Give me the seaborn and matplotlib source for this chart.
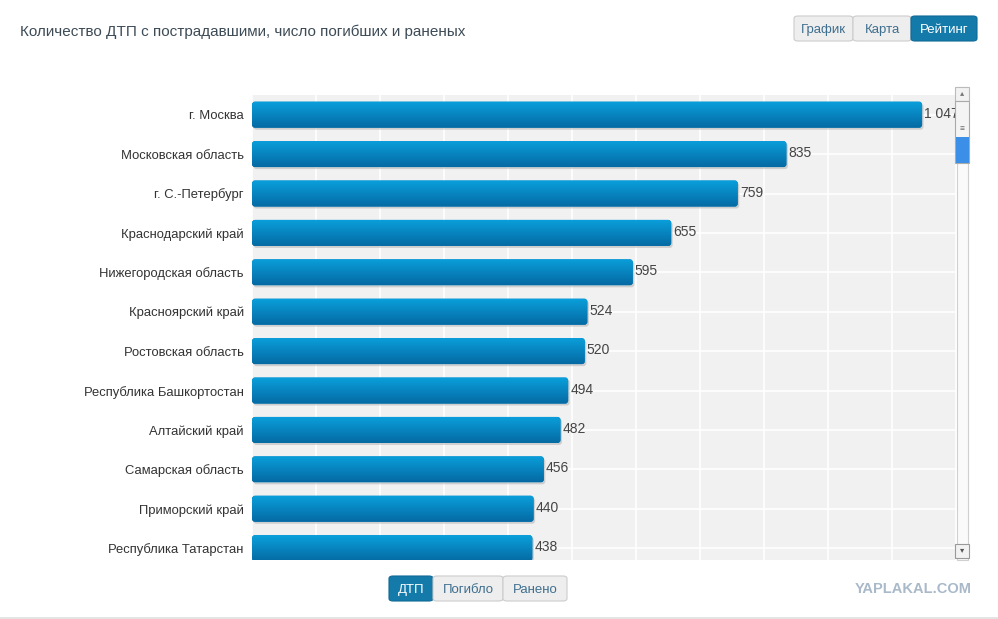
import numpy as np
import pandas as pd
import matplotlib
matplotlib.use('Agg')
import matplotlib.pyplot as plt
import seaborn as sns
from matplotlib.patches import FancyBboxPatch, Rectangle

regions = ['г. Москва', 'Московская область', 'г. С.-Петербург', 'Краснодарский край',
           'Нижегородская область', 'Красноярский край', 'Ростовская область',
           'Республика Башкортостан', 'Алтайский край', 'Самарская область',
           'Приморский край', 'Республика Татарстан']
accidents = [1047, 835, 759, 655, 595, 524, 520, 494, 482, 456, 440, 438]
top_buttons = ['График', 'Карта', 'Рейтинг']
bottom_buttons = ['ДТП', 'Погибло', 'Ранено']
title = 'Количество ДТП с пострадавшими, число погибших и раненых'

sns.set_theme(style='whitegrid')
plt.rcParams['font.family'] = ['Liberation Sans', 'DejaVu Sans']

W, H = 998, 619
fig = plt.figure(figsize=(W / 100, H / 100), dpi=100)
fig.patch.set_facecolor('white')


def fx(px):
    return px / W


def fy(py):
    return 1 - py / H


ax = fig.add_axes([fx(252), fy(560), fx(956) - fx(252), fy(95) - fy(560)])
df = pd.DataFrame({'region': regions, 'value': accidents})
sns.barplot(data=df, x='value', y='region', color='#0a86c2', width=0.66, ax=ax)

ax.set_xlim(0, 1100)
ax.set_ylim(11.3, -0.5)
ax.set_facecolor('#f1f1f1')
ax.set_xticks(np.arange(0, 1101, 100))
ax.set_xticklabels([])
ax.grid(True, color='white', linewidth=1.2)
ax.set_axisbelow(True)
for s in ax.spines.values():
    s.set_visible(False)
ax.set_xlabel('')
ax.set_ylabel('')
ax.tick_params(axis='y', labelsize=9.4, labelcolor='#333333', length=0, pad=6)
ax.tick_params(axis='x', length=0)

# rounded gradient bars with a soft shadow
px_x = (956 - 252) / 1100
px_y = (560 - 95) / 11.8
aspect = px_x / px_y
grad = np.linspace(0, 1, 64).reshape(-1, 1)
cmap = matplotlib.colors.LinearSegmentedColormap.from_list('bar', ['#0aa0dc', '#056aa3'])
for p in list(ax.patches):
    x0, y0, w, h = p.get_x(), p.get_y(), p.get_width(), p.get_height()
    p.set_visible(False)
    r = 3 / px_x
    shadow = FancyBboxPatch((x0 + 1.5 / px_x, y0 + 2 / px_y), w, h,
                            boxstyle=f'round,pad=0,rounding_size={r}',
                            mutation_aspect=aspect, facecolor='#b8b8b8',
                            edgecolor='none', alpha=0.6, zorder=2)
    ax.add_patch(shadow)
    bar = FancyBboxPatch((x0, y0), w, h, boxstyle=f'round,pad=0,rounding_size={r}',
                         mutation_aspect=aspect, facecolor='#0a86c2',
                         edgecolor='none', zorder=3)
    ax.add_patch(bar)
    im = ax.imshow(grad, extent=(x0, x0 + w, y0 + h, y0), cmap=cmap,
                   aspect='auto', zorder=4)
    im.set_clip_path(bar)
    label = f'{int(w):,}'.replace(',', ' ')
    ax.text(x0 + w + 2 / px_x, y0 + h / 2 - 1 / px_y, label, va='center', ha='left',
            fontsize=10, color='#444444', zorder=5, clip_on=False)
ax.set_xlim(0, 1100)
ax.set_ylim(11.3, -0.5)

# title
fig.text(fx(20), fy(30), title, fontsize=11, color='#3d4b56', va='center_baseline', ha='left')


def button_group(labels, x_edges, y_top, y_bot, active):
    for i, lab in enumerate(labels):
        x0, x1 = x_edges[i], x_edges[i + 1]
        on = i == active
        rect = FancyBboxPatch((fx(x0), fy(y_bot)), fx(x1) - fx(x0), fy(y_top) - fy(y_bot),
                              boxstyle='round,pad=0,rounding_size=0.004',
                              transform=fig.transFigure,
                              facecolor='#137aaa' if on else '#eeeeee',
                              edgecolor='#0f6a96' if on else '#cccccc',
                              linewidth=0.8)
        fig.add_artist(rect)
        fig.text(fx((x0 + x1) / 2), fy((y_top + y_bot) / 2), lab, ha='center',
                 va='center_baseline', fontsize=9.5,
                 color='white' if on else '#3f6f8e')


button_group(top_buttons, [794, 853, 911, 977], 16, 41, 2)
button_group(bottom_buttons, [389, 433, 503, 567], 576, 601, 0)

# scrollbar
fig.add_artist(Rectangle((fx(957), fy(560)), fx(968) - fx(957), fy(87) - fy(560),
                         transform=fig.transFigure, facecolor='#fafafa',
                         edgecolor='#d0d0d0', linewidth=0.8))
fig.add_artist(Rectangle((fx(955), fy(101)), fx(969) - fx(955), fy(87) - fy(101),
                         transform=fig.transFigure, facecolor='#f2f2f2',
                         edgecolor='#bbbbbb', linewidth=0.8))
fig.text(fx(962), fy(94), '▴', fontsize=6, color='#777777', ha='center', va='center')
fig.add_artist(Rectangle((fx(955), fy(163)), fx(969) - fx(955), fy(101) - fy(163),
                         transform=fig.transFigure, facecolor='#f4f4f4',
                         edgecolor='#aaaaaa', linewidth=0.8))
fig.add_artist(Rectangle((fx(955.5), fy(163)), fx(968.5) - fx(955.5), fy(137) - fy(163),
                         transform=fig.transFigure, facecolor='#3b8fe6',
                         edgecolor='none'))
fig.text(fx(962), fy(130), '≡', fontsize=6, color='#666666', ha='center', va='center')
fig.add_artist(Rectangle((fx(955), fy(558)), fx(969) - fx(955), fy(544) - fy(558),
                         transform=fig.transFigure, facecolor='#f2f2f2',
                         edgecolor='#999999', linewidth=0.8))
fig.text(fx(962), fy(551), '▾', fontsize=6, color='#555555', ha='center', va='center')

# watermark and bottom border
fig.text(fx(972), fy(589), 'YAPLAKAL.COM', ha='right', va='center', fontsize=10.5,
         fontweight='bold', color='#a9b9c9')
fig.add_artist(Rectangle((0, 0), 1, fy(617), transform=fig.transFigure,
                         facecolor='#e4e4e4', edgecolor='none'))

fig.savefig('out.png', dpi=100)
